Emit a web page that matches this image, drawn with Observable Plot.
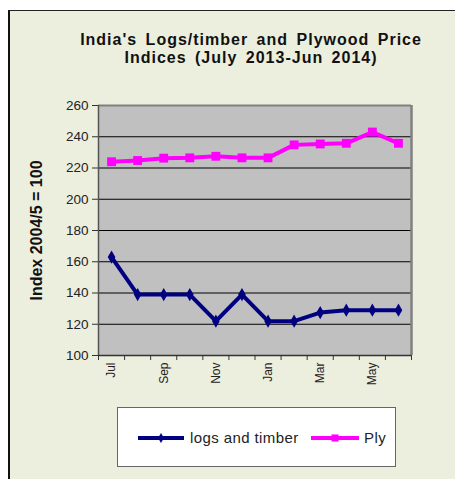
<!DOCTYPE html>
<html>
<head>
<meta charset="utf-8">
<script src="https://cdn.jsdelivr.net/npm/d3@7"></script>
<script src="https://cdn.jsdelivr.net/npm/@observablehq/plot@0.6"></script>
<style>
  html, body { margin: 0; padding: 0; background: #ffffff; }
  body { width: 455px; height: 479px; position: relative; overflow: hidden; font-family: "Liberation Sans", Arial, sans-serif; }
  #bg { position: absolute; left: 8px; top: 10px; right: 0; bottom: 0; background: #ECEEDE; border-left: 2px solid #111; border-top: 1.5px solid #222; }
  #title { position: absolute; left: 0; top: 31px; width: 502px; text-align: center; font-weight: bold; font-size: 16px; letter-spacing: 1px; word-spacing: 3px; line-height: 18px; color: #111; }
  #chart { position: absolute; left: 0; top: 0; }
  #legend { position: absolute; left: 117px; top: 407px; width: 279px; height: 60px; background: #fff; border: 1.5px solid #666; box-sizing: border-box; }
  #legend svg { position: absolute; left: 0; top: 0; }
</style>
</head>
<body>
<div id="bg"></div>
<div id="title">India's Logs/timber and Plywood Price<br>Indices (July 2013-Jun 2014)</div>
<div id="chart"></div>
<div id="legend"></div>
<script>
const months = ["Jul","Aug","Sep","Oct","Nov","Dec","Jan","Feb","Mar","Apr","May","Jun"];
const logsTimber = [163, 139, 139, 139, 122, 139, 122, 122, 127.5, 129, 129, 129];
const plywood = [224, 224.8, 226.3, 226.5, 227.5, 226.5, 226.5, 234.8, 235.4, 235.8, 243, 235.8];
const yTicks = [100, 120, 140, 160, 180, 200, 220, 240, 260];
const xLabelMonths = ["Jul","Sep","Nov","Jan","Mar","May"];
const seriesNames = ["logs and timber", "Ply"];
const yLabel = "Index 2004/5 = 100";

const rows = months.map((m, i) => ({i, m, logs: logsTimber[i], ply: plywood[i]}));
const bounds = d3.range(months.length + 1).map(k => k - 0.5);
const labelIdx = xLabelMonths.map(m => months.indexOf(m));

const chart = Plot.plot({
  width: 455,
  height: 479,
  marginLeft: 98,
  marginRight: 44,
  marginTop: 105,
  marginBottom: 124,
  style: {background: "transparent", fontFamily: "'Liberation Sans', Arial, sans-serif", color: "#222"},
  x: {type: "linear", domain: [-0.5, months.length - 0.5]},
  y: {domain: [100, 260]},
  marks: [
    Plot.frame({fill: "#C0C0C0", stroke: null}),
    Plot.ruleY(yTicks.filter(t => t > 100 && t < 260), {stroke: "#000", strokeWidth: 1}),
    Plot.ruleY([260], {stroke: "#808080", strokeWidth: 2}),
    Plot.ruleX([months.length - 0.5], {stroke: "#808080", strokeWidth: 2.5}),
    Plot.ruleX([-0.5], {stroke: "#555", strokeWidth: 1.5}),
    Plot.ruleY([100], {stroke: "#333", strokeWidth: 1.5}),
    Plot.axisY({ticks: yTicks, tickSize: 6, tickPadding: 4, fontSize: 13.5, label: null, stroke: "#333"}),
    Plot.axisX({ticks: bounds, tickSize: 5, tickFormat: () => "", label: null, stroke: "#333"}),
    Plot.axisX({ticks: labelIdx, tickSize: 0, tickPadding: 7, tickRotate: -90, tickFormat: i => months[i], fontSize: 12, label: null}),
    Plot.text([yLabel], {frameAnchor: "left", textAnchor: "middle", dx: -62, rotate: -90, text: d => d, fontSize: 16, fontWeight: "bold", fill: "#111"}),
    Plot.lineY(rows, {x: "i", y: "ply", stroke: "#FF00FF", strokeWidth: 4}),
    Plot.dot(rows, {x: "i", y: "ply", symbol: "square", r: 5, fill: "#FF00FF"}),
    Plot.lineY(rows, {x: "i", y: "logs", stroke: "#000080", strokeWidth: 4}),
    Plot.dot(rows, {x: "i", y: "logs", symbol: "diamond", r: 4, fill: "#000080"})
  ]
});
document.getElementById("chart").appendChild(chart);

// legend
const lg = d3.select("#legend").append("svg").attr("width", 279).attr("height", 60);
const ox = 117, oy = 407;
const items = [
  {name: seriesNames[0], color: "#000080", x1: 137, x2: 183, tx: 189, sym: d3.symbolDiamond, size: 30},
  {name: seriesNames[1], color: "#FF00FF", x1: 310, x2: 358, tx: 363, sym: d3.symbolSquare, size: 50}
];
items.forEach(it => {
  lg.append("line").attr("x1", it.x1 - ox).attr("x2", it.x2 - ox).attr("y1", 437 - oy).attr("y2", 437 - oy)
    .attr("stroke", it.color).attr("stroke-width", 4);
  lg.append("path").attr("d", d3.symbol(it.sym, it.size)()).attr("transform", `translate(${(it.x1 + it.x2) / 2 - ox},${437 - oy})`)
    .attr("fill", it.color);
  lg.append("text").attr("x", it.tx - ox).attr("y", 442 - oy).text(it.name)
    .attr("font-size", 15).attr("letter-spacing", 0.4).attr("fill", "#222").attr("font-family", "'Liberation Sans', Arial, sans-serif");
});
</script>
</body>
</html>
